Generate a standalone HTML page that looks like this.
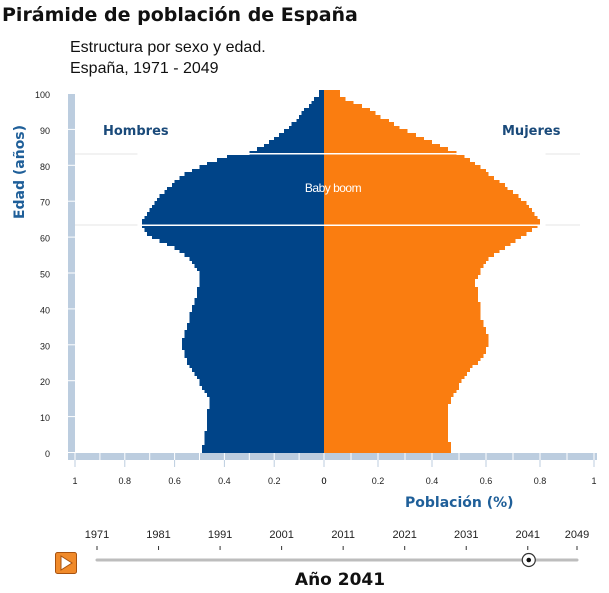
<!DOCTYPE html>
<html><head><meta charset="utf-8">
<style>
body{margin:0;width:609px;height:593px;background:#fff;overflow:hidden;font-family:"Liberation Sans",sans-serif;}
svg{position:absolute;left:0;top:0}
</style></head><body>
<svg id="c" width="609" height="593">
<text x="2" y="21" font-size="19" font-weight="bold" fill="#111" font-family="DejaVu Sans, sans-serif">Pirámide de población de España</text>
<text x="70" y="52" font-size="16" fill="#111">Estructura por sexo y edad.</text>
<text x="70" y="73" font-size="16" fill="#111">España, 1971 - 2049</text>
<g id="bars" shape-rendering="crispEdges"></g>
<g id="axes"></g>
<text x="103" y="135" font-size="13" font-weight="bold" fill="#1a4a7a" font-family="DejaVu Sans, sans-serif">Hombres</text>
<text x="502" y="135" font-size="13" font-weight="bold" fill="#1a4a7a" font-family="DejaVu Sans, sans-serif">Mujeres</text>
<text x="333" y="192" font-size="12" fill="#fff" text-anchor="middle" letter-spacing="-0.5">Baby boom</text>
<text transform="translate(24,172) rotate(-90)" font-size="14" font-weight="bold" fill="#1f5f99" text-anchor="middle" font-family="DejaVu Sans, sans-serif">Edad (años)</text>
<text x="405" y="507" font-size="14" font-weight="bold" fill="#1f5f99" font-family="DejaVu Sans, sans-serif">Población (%)</text>
<g id="timeline"></g>
<g>
<rect x="55.5" y="552.5" width="21" height="21" rx="2" fill="#f08a2a" stroke="#a8520f"/>
<path d="M61 556 L72 563 L61 570 Z" fill="#fff" stroke="#a8520f" stroke-width="1"/>
</g>
<text x="340" y="585" font-size="17" font-weight="bold" fill="#111" text-anchor="middle" font-family="DejaVu Sans, sans-serif">Año 2041</text>
</svg>
<script>
const ages=[];for(let a=0;a<=100;a++)ages.push(a);
const male=[.49,.49,.48,.48,.48,.48,.47,.47,.47,.47,
.47,.47,.46,.46,.46,.46,.47,.48,.49,.50,
.50,.51,.52,.53,.54,.55,.55,.56,.56,.57,
.57,.57,.56,.56,.55,.55,.54,.54,.54,.53,
.53,.52,.52,.51,.51,.51,.50,.50,.50,.50,
.50,.51,.52,.53,.54,.56,.58,.60,.63,.66,
.69,.71,.72,.73,.73,.72,.71,.70,.69,.68,
.67,.66,.64,.63,.61,.60,.58,.56,.53,.50,
.47,.43,.39,.30,.27,.24,.22,.20,.18,.16,
.14,.13,.11,.10,.09,.08,.06,.05,.04,.02,.02];
const female=[.47,.47,.47,.46,.46,.46,.46,.46,.46,.46,
.46,.46,.46,.46,.47,.47,.48,.49,.50,.50,
.51,.52,.53,.54,.55,.57,.58,.59,.60,.60,
.61,.61,.61,.60,.60,.59,.59,.58,.58,.58,
.58,.58,.57,.57,.57,.57,.56,.56,.56,.57,
.58,.58,.59,.60,.61,.63,.65,.67,.69,.71,
.73,.75,.77,.79,.80,.79,.78,.77,.76,.75,
.73,.72,.70,.68,.67,.65,.63,.61,.60,.58,
.56,.54,.52,.49,.46,.43,.40,.37,.34,.31,
.28,.26,.24,.21,.19,.17,.14,.11,.08,.06,.06];
const yTicks=[0,10,20,30,40,50,60,70,80,90,100];
const xTickLabels=["1","0.8","0.6","0.4","0.2","0","0","0.2","0.4","0.6","0.8","1"];
const years=["1971","1981","1991","2001","2011","2021","2031","2041","2049"];
const yearVals=[1971,1981,1991,2001,2011,2021,2031,2041,2049];
const currentYear=2041;
const NS="http://www.w3.org/2000/svg";
const cx=324, xl=v=>cx-v*249, xr=v=>cx+v*270;
const y=a=>453-a*3.59;
function mk(t,at,p){const e=document.createElementNS(NS,t);for(const k in at)e.setAttribute(k,at[k]);p.appendChild(e);return e;}
const bars=document.getElementById('bars'),axes=document.getElementById('axes'),tl=document.getElementById('timeline');
[83.3,63.5].forEach(a=>{const l=mk('line',{x1:75,x2:580,y1:y(a),y2:y(a),stroke:'#e6e6e6'},bars);

});
ages.forEach((a,i)=>{
 const top=Math.floor(y(a+1)), bot=Math.ceil(y(a))+1;
 const m=mk('rect',{x:xl(male[i]),y:top,width:cx-xl(male[i]),height:bot-top,fill:'#004488'},bars);
 
 
 const f=mk('rect',{x:cx,y:top,width:xr(female[i])-cx,height:bot-top,fill:'#fa7d10'},bars);
 
 
});
[83.3,63.5].forEach(a=>{const l=mk('line',{x1:xl(0.75),x2:xr(0.82),y1:y(a),y2:y(a),stroke:'#fff','stroke-width':1.5},bars);

});
const ys=mk('rect',{x:68,y:94,width:7,height:366,fill:'#bccddf'},axes);


yTicks.forEach(t=>{
 mk('line',{x1:68,x2:75,y1:y(t)-0.5,y2:y(t)-0.5,stroke:'#fff'},axes);
 const tx=mk('text',{x:50,y:y(t)+4,'font-size':9,'text-anchor':'end',fill:'#222'},axes);tx.textContent=t;
 
 
});
const xs=mk('rect',{x:68,y:453,width:529,height:7,fill:'#bccddf'},axes);


const xVals=[1,.8,.6,.4,.2,0,0,.2,.4,.6,.8,1];
xVals.forEach((v,i)=>{
 const px=i<6?xl(v):xr(v);
 mk('line',{x1:px,x2:px,y1:453,y2:460,stroke:'#fff'},axes);
 mk('line',{x1:px,x2:px,y1:460,y2:467,stroke:'#bccddf'},axes);
 const tx=mk('text',{x:px,y:484,'font-size':9,'text-anchor':'middle',fill:'#222'},axes);tx.textContent=xTickLabels[i];
 
 
});
[-0.1,-0.3,-0.5,-0.7,-0.9,0.1,0.3,0.5,0.7,0.9].forEach(v=>{const px=v<0?xl(-v):xr(v);mk('line',{x1:px,x2:px,y1:453,y2:460,stroke:'#fff'},axes);});
const tx0=97,tx1=577,yx=v=>tx0+(v-1971)/(2049-1971)*(tx1-tx0);
const track=mk('line',{x1:97,x2:577,y1:560,y2:560,stroke:'#bdbdbd','stroke-width':3,'stroke-linecap':'round'},tl);


years.forEach((s,i)=>{
 const px=yx(yearVals[i]);
 const t=mk('text',{x:px,y:538,'font-size':11,'text-anchor':'middle',fill:'#222'},tl);t.textContent=s;
 
 
 mk('line',{x1:px,x2:px,y1:546,y2:550,stroke:'#333'},tl);
});
const kx=yx(currentYear)+1;
const k=mk('circle',{cx:kx,cy:560,r:6.5,fill:'#fff',stroke:'#333','stroke-width':1.2},tl);


mk('circle',{cx:kx,cy:560,r:2.3,fill:'#111'},tl);
</script>
</body></html>
